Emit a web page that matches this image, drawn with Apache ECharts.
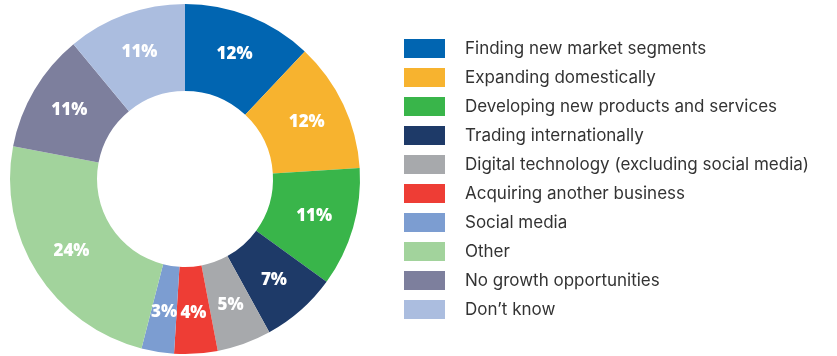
<!DOCTYPE html>
<html>
<head>
<meta charset="utf-8">
<script src="https://cdn.jsdelivr.net/npm/echarts@6/dist/echarts.min.js"></script>
<style>
  html, body { margin: 0; padding: 0; background: #fff; }
  #chart { width: 837px; height: 356px; }
</style>
</head>
<body>
<div id="chart"></div>
<script>
// Growth opportunities, share of respondents (%)
const categories = [
  'Finding new market segments',
  'Expanding domestically',
  'Developing new products and services',
  'Trading internationally',
  'Digital technology (excluding social media)',
  'Acquiring another business',
  'Social media',
  'Other',
  'No growth opportunities',
  'Don\u2019t know'
];
const shares = [12, 12, 11, 7, 5, 4, 3, 24, 11, 11];
const colors = [
  '#0165B1', '#F7B32F', '#39B54A', '#1E3A68', '#A7A9AC',
  '#EE3D35', '#7C9DD1', '#A2D39C', '#7D7F9D', '#ABBDDF'
];

const chart = echarts.init(document.getElementById('chart'));
chart.setOption({
  animation: false,
  color: colors,
  legend: {
    orient: 'vertical',
    left: 404,
    top: 39,
    padding: 0,
    itemWidth: 41,
    itemHeight: 19,
    itemGap: 10,
    icon: 'rect',
    selectedMode: false,
    textStyle: {
      fontFamily: 'Inter',
      fontSize: 17,
      color: '#333333',
      padding: [0, 0, 0, 15]
    },
    data: categories
  },
  series: [{
    type: 'pie',
    center: [185, 179],
    radius: [88, 175],
    startAngle: 90,
    clockwise: true,
    label: {
      position: 'inside',
      formatter: '{c}%',
      color: '#ffffff',
      fontFamily: 'Open Sans',
      fontWeight: 800,
      fontSize: 17
    },
    labelLine: { show: false },
    emphasis: { disabled: true },
    itemStyle: { borderWidth: 0 },
    data: categories.map((name, i) => ({ name, value: shares[i] }))
  }]
});
</script>
</body>
</html>
